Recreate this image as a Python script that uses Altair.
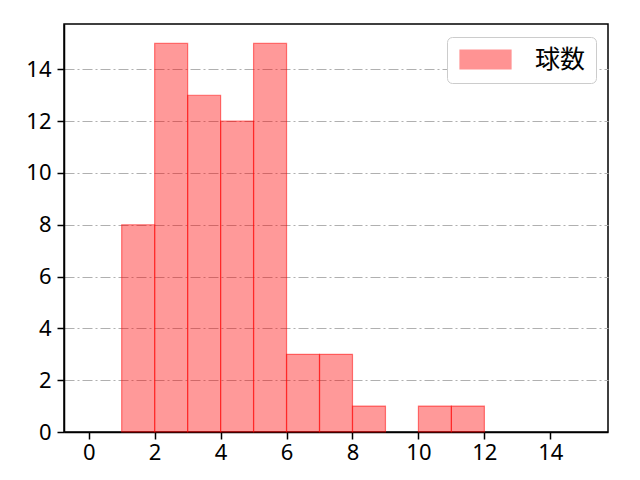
import altair as alt
import pandas as pd

# histogram bins (width 1) and counts (empty bins omitted)
bin_start = [1, 2, 3, 4, 5, 6, 7, 8, 10, 11]
bin_end = [2, 3, 4, 5, 6, 7, 8, 9, 11, 12]
counts = [8, 15, 13, 12, 15, 3, 3, 1, 1, 1]
series_name = "球数"
x_ticks = [0, 2, 4, 6, 8, 10, 12, 14]
y_ticks = [0, 2, 4, 6, 8, 10, 12, 14]

df = pd.DataFrame({
    "start": bin_start,
    "end": bin_end,
    "count": counts,
    "series": [series_name] * len(counts),
})

FONT = "Noto Sans CJK JP"
TICK_FONT = "Noto Sans"

chart = alt.Chart(df).mark_bar(
    fillOpacity=0.4, stroke="#ff0000", strokeOpacity=0.5, strokeWidth=1.2
).encode(
    x=alt.X("start:Q",
            scale=alt.Scale(domain=[-0.75, 15.75], nice=False, zero=False),
            axis=alt.Axis(values=x_ticks, title=None, grid=False, labelPadding=3)),
    x2="end:Q",
    y=alt.Y("count:Q",
            scale=alt.Scale(domain=[0, 15.75], nice=False),
            axis=alt.Axis(values=y_ticks, title=None, grid=True,
                          gridColor="#b0b0b0", gridWidth=1.2,
                          gridDash=[10, 3, 2, 3], labelPadding=6)),
    y2=alt.datum(0),
    fill=alt.Fill("series:N",
                  scale=alt.Scale(domain=[series_name], range=["#ff0000"]),
                  legend=alt.Legend(title=None, orient="none", legendX=383, legendY=13,
                                    symbolType="M-1,-1L4.37,-1L4.37,1L-1,1Z",
                                    symbolSize=361, symbolOpacity=0.42,
                                    symbolStrokeColor="#ff0000", symbolStrokeWidth=1.2,
                                    labelFontSize=25, labelFont=FONT, labelColor="black",
                                    labelOffset=53, padding=10,
                                    strokeColor="#cccccc", fillColor="white",
                                    cornerRadius=5)),
).properties(
    width=544, height=408,
    autosize=alt.AutoSizeParams(type="none"),
    padding={"left": 56, "top": 16, "right": 24, "bottom": 40},
).configure_view(
    stroke="black", strokeWidth=1.5
).configure_axis(
    domainColor="black", domainWidth=1.5,
    tickColor="black", tickWidth=1.5, tickSize=7,
    labelFont=TICK_FONT, labelFontSize=22, labelColor="black",
)

chart.save("out.html", embed_options={"renderer": "svg", "actions": False})
